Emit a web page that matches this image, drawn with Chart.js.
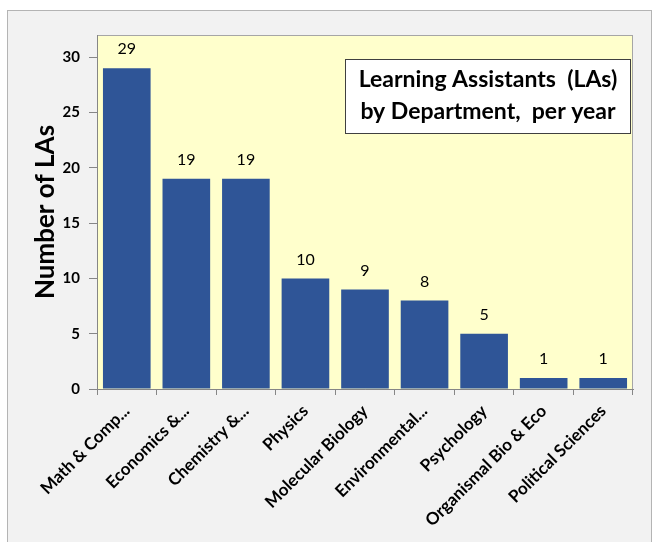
<!DOCTYPE html>
<html>
<head>
<meta charset="utf-8">
<script src="https://cdn.jsdelivr.net/npm/chart.js@4"></script>
<style>
  html, body { margin: 0; padding: 0; background: #ffffff; }
  #wrap { position: relative; width: 654px; height: 542px; }
</style>
</head>
<body>
<div id="wrap"><canvas id="chart" width="654" height="542"></canvas></div>
<script>
const departments = ["Math & Comp...", "Economics &...", "Chemistry &...", "Physics", "Molecular Biology",
  "Environmental...", "Psychology", "Organismal Bio & Eco", "Political Sciences"];
const numLAs = [29, 19, 19, 10, 9, 8, 5, 1, 1];
const yTicks = [0, 5, 10, 15, 20, 25, 30];
const boxLines = ["Learning Assistants  (LAs)", "by Department,  per year"];

const FONT = "Lato, 'Open Sans', sans-serif";

// grey outer frame + yellow plot area
const backdrop = {
  id: "backdrop",
  beforeDraw(chart) {
    const ctx = chart.ctx;
    const a = chart.chartArea;
    ctx.save();
    ctx.fillStyle = "#f2f2f2";
    ctx.fillRect(7, 10, 645, 540);
    ctx.strokeStyle = "#b4b4b4";
    ctx.lineWidth = 1;
    ctx.strokeRect(7.5, 10.5, 644, 540);
    ctx.fillStyle = "#ffffcc";
    ctx.fillRect(a.left, a.top, a.right - a.left, a.bottom - a.top);
    ctx.strokeStyle = "#a6a6a6";
    ctx.strokeRect(a.left + 0.5, a.top + 0.5, a.right - a.left - 1, a.bottom - a.top);
    ctx.restore();
  }
};

// value labels above the bars + the text box
const extras = {
  id: "extras",
  afterDatasetsDraw(chart) {
    const ctx = chart.ctx;
    const meta = chart.getDatasetMeta(0);
    ctx.save();
    ctx.fillStyle = "#000";
    ctx.font = "16px " + FONT;
    ctx.textAlign = "center";
    ctx.textBaseline = "middle";
    meta.data.forEach((bar, i) => {
      ctx.fillText(String(numLAs[i]), bar.x, bar.y - 19);
    });

    const a = chart.chartArea;
    const x0 = 345, y0 = 59, w = a.right - 2 - x0, h = 75;
    ctx.fillStyle = "#ffffff";
    ctx.fillRect(x0, y0, w, h);
    ctx.strokeStyle = "#404040";
    ctx.lineWidth = 1;
    ctx.strokeRect(x0 + 0.5, y0 + 0.5, w - 1, h - 1);
    ctx.fillStyle = "#000";
    ctx.font = "bold 23px " + FONT;
    ctx.fillText(boxLines[0], x0 + w / 2, y0 + 21);
    ctx.fillText(boxLines[1], x0 + w / 2, y0 + 53);
    ctx.restore();
  }
};

new Chart(document.getElementById("chart"), {
  type: "bar",
  data: {
    labels: departments,
    datasets: [{
      data: numLAs,
      backgroundColor: "#2f5597",
      borderWidth: 0,
      barPercentage: 0.8,
      categoryPercentage: 1.0
    }]
  },
  options: {
    responsive: false,
    animation: false,
    layout: { padding: { left: 30, top: 35, right: 21, bottom: 0 } },
    plugins: { legend: { display: false }, tooltip: { enabled: false } },
    scales: {
      x: {
        afterFit(scale) { scale.height = 153; },
        grid: { display: true, drawOnChartArea: false, offset: true, tickLength: 6, color: "#868686" },
        border: { display: true, color: "#868686" },
        ticks: {
          color: "#000",
          font: { family: FONT, size: 17, weight: "bold" },
          minRotation: 45, maxRotation: 45, autoSkip: false, padding: 6
        }
      },
      y: {
        min: 0, max: 32,
        afterFit(scale) { scale.width = 67; },
        afterBuildTicks(scale) { scale.ticks = yTicks.map(v => ({ value: v })); },
        grid: { display: true, drawOnChartArea: false, tickLength: 8, color: "#868686" },
        border: { display: true, color: "#868686" },
        ticks: {
          color: "#000",
          font: { family: FONT, size: 15, weight: "bold" },
          padding: 9
        },
        title: {
          display: true, text: "Number of LAs", color: "#000",
          font: { family: FONT, size: 26, weight: "bold" },
          padding: { top: 0, bottom: 2 }
        }
      }
    }
  },
  plugins: [backdrop, extras]
});
</script>
</body>
</html>
